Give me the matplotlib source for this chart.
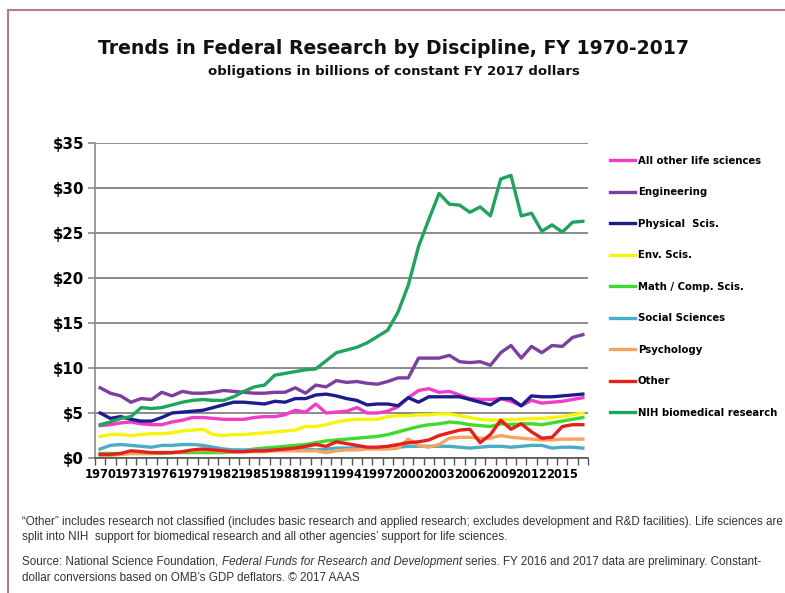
import matplotlib
matplotlib.use("Agg")
import matplotlib.pyplot as plt
from matplotlib.patches import Rectangle
from matplotlib.ticker import FixedLocator, FuncFormatter

# ---------------- data ----------------
years = list(range(1970, 2018))
tick_years = list(range(1970, 2016, 3))

labels = ["All other life sciences", "Engineering", "Physical  Scis.", "Env. Scis.",
          "Math / Comp. Scis.", "Social Sciences", "Psychology", "Other",
          "NIH biomedical research"]

life = [3.6, 3.7, 3.9, 4.0, 3.8, 3.7, 3.7, 4.0, 4.2, 4.5,
        4.5, 4.4, 4.3, 4.3, 4.3, 4.5, 4.6, 4.6, 4.8, 5.3,
        5.1, 6.0, 5.0, 5.1, 5.2, 5.6, 5.0, 5.0, 5.2, 5.7,
        6.7, 7.5, 7.7, 7.3, 7.4, 7.0, 6.6, 6.5, 6.5, 6.6,
        6.3, 5.8, 6.4, 6.1, 6.2, 6.3, 6.5, 6.7]
engineering = [7.8, 7.2, 6.9, 6.2, 6.6, 6.5, 7.3, 6.9, 7.4, 7.2,
               7.2, 7.3, 7.5, 7.4, 7.3, 7.2, 7.2, 7.3, 7.3, 7.8,
               7.2, 8.1, 7.9, 8.6, 8.4, 8.5, 8.3, 8.2, 8.5, 8.9,
               8.9, 11.1, 11.1, 11.1, 11.4, 10.7, 10.6, 10.7, 10.3, 11.7,
               12.5, 11.1, 12.4, 11.7, 12.5, 12.4, 13.4, 13.7]
physical = [5.0, 4.4, 4.6, 4.3, 4.1, 4.1, 4.5, 5.0, 5.1, 5.2,
            5.3, 5.6, 5.9, 6.2, 6.2, 6.1, 6.0, 6.3, 6.2, 6.6,
            6.6, 7.0, 7.1, 6.9, 6.6, 6.4, 5.9, 6.0, 6.0, 5.8,
            6.7, 6.2, 6.8, 6.8, 6.8, 6.8, 6.5, 6.2, 5.9, 6.6,
            6.6, 5.8, 6.9, 6.8, 6.8, 6.9, 7.0, 7.1]
env = [2.4, 2.6, 2.6, 2.5, 2.6, 2.7, 2.7, 2.8, 3.0, 3.1,
       3.2, 2.6, 2.5, 2.6, 2.6, 2.7, 2.8, 2.9, 3.0, 3.1,
       3.5, 3.5, 3.7, 4.0, 4.2, 4.3, 4.3, 4.3, 4.6, 4.7,
       4.7, 4.8, 4.8, 4.9, 4.9, 4.7, 4.5, 4.3, 4.2, 4.2,
       4.3, 4.3, 4.4, 4.4, 4.5, 4.6, 4.8, 5.0]
math_comp = [0.5, 0.5, 0.5, 0.5, 0.5, 0.5, 0.5, 0.6, 0.6, 0.6,
             0.6, 0.6, 0.6, 0.7, 0.8, 1.0, 1.1, 1.2, 1.3, 1.4,
             1.5, 1.7, 1.9, 2.0, 2.1, 2.2, 2.3, 2.4, 2.6, 2.9,
             3.2, 3.5, 3.7, 3.8, 4.0, 3.9, 3.7, 3.6, 3.5, 3.8,
             3.7, 3.8, 3.8, 3.7, 3.9, 4.1, 4.3, 4.5]
social = [1.0, 1.4, 1.5, 1.4, 1.3, 1.2, 1.4, 1.4, 1.5, 1.5,
          1.4, 1.2, 1.0, 0.9, 0.9, 0.9, 0.9, 0.9, 1.0, 1.0,
          1.0, 0.9, 1.0, 1.1, 1.1, 1.1, 1.1, 1.1, 1.2, 1.2,
          1.3, 1.3, 1.3, 1.3, 1.3, 1.2, 1.1, 1.2, 1.3, 1.3,
          1.2, 1.3, 1.4, 1.4, 1.1, 1.2, 1.2, 1.1]
psychology = [0.3, 0.3, 0.4, 0.5, 0.5, 0.5, 0.6, 0.6, 0.7, 0.8,
              0.9, 0.8, 0.7, 0.7, 0.7, 0.7, 0.7, 0.8, 0.8, 0.8,
              0.8, 0.8, 0.6, 0.8, 0.9, 0.9, 1.0, 1.0, 1.0, 1.1,
              2.1, 1.4, 1.2, 1.5, 2.2, 2.3, 2.3, 2.2, 2.2, 2.5,
              2.3, 2.2, 2.1, 2.0, 2.0, 2.1, 2.1, 2.1]
other = [0.4, 0.4, 0.5, 0.8, 0.7, 0.6, 0.6, 0.6, 0.7, 0.9,
         1.0, 0.9, 0.8, 0.7, 0.7, 0.8, 0.8, 0.9, 1.0, 1.1,
         1.3, 1.5, 1.3, 1.8, 1.6, 1.4, 1.2, 1.2, 1.3, 1.5,
         1.7, 1.8, 2.0, 2.5, 2.8, 3.1, 3.2, 1.7, 2.6, 4.2,
         3.2, 3.8, 2.9, 2.2, 2.3, 3.5, 3.7, 3.7]
nih = [3.7, 4.0, 4.4, 4.6, 5.6, 5.5, 5.6, 5.9, 6.2, 6.4,
       6.5, 6.4, 6.4, 6.8, 7.4, 7.9, 8.1, 9.2, 9.4, 9.6,
       9.8, 9.9, 10.8, 11.7, 12.0, 12.3, 12.8, 13.5, 14.2, 16.2,
       19.2, 23.5, 26.5, 29.4, 28.2, 28.1, 27.3, 27.9, 26.9, 31.0,
       31.4, 26.9, 27.2, 25.2, 25.9, 25.1, 26.2, 26.3]

series = [life, engineering, physical, env, math_comp, social, psychology, other, nih]
colors = ["#f03cc8", "#7b3f9e", "#1c1c8e", "#f5f50a", "#3ddc2a",
          "#4bacc6", "#f4a460", "#e3201b", "#1fa35e"]

# ---------------- figure ----------------
W, H = 785, 593
fig = plt.figure(figsize=(W / 100, H / 100), dpi=100)
fig.patch.set_facecolor("white")

def fx(px):
    return px / W

def fy(py):
    return 1 - py / H

# border
fig.patches.append(Rectangle((fx(8), fy(600)), fx(800), fy(10) - fy(600),
                             transform=fig.transFigure, fill=False,
                             edgecolor="#b87b88", linewidth=1.5))

ax = fig.add_axes([fx(95), fy(458), fx(588) - fx(95), fy(143) - fy(458)])
for s, c, lab in zip(series, colors, labels):
    ax.plot(years, s, color=c, linewidth=2.4, label=lab, solid_joinstyle="round")

ax.set_xlim(1969.5, 2017.5)
ax.set_ylim(0, 35)
ax.set_yticks(range(0, 36, 5))
ax.yaxis.set_major_formatter(FuncFormatter(lambda v, p: f"${int(v)}"))
ax.grid(axis="y", color="#8a8a8a", linewidth=1.4)
ax.set_axisbelow(True)
for sp in ["top", "right"]:
    ax.spines[sp].set_visible(False)
ax.spines["left"].set_color("#8a8a8a")
ax.spines["left"].set_linewidth(1.2)
ax.spines["bottom"].set_color("#555555")
ax.spines["bottom"].set_linewidth(1.2)

ax.xaxis.set_major_locator(FixedLocator(tick_years))
ax.xaxis.set_minor_locator(FixedLocator([y - 0.5 for y in years] + [years[-1] + 0.5]))
ax.tick_params(axis="x", which="major", length=0, pad=7)
ax.tick_params(axis="x", which="minor", length=5, width=1, color="#555555", direction="out")
ax.tick_params(axis="y", length=5, width=1.2, color="#8a8a8a", pad=3)
for t in ax.get_xticklabels():
    t.set_fontsize(8.3)
    t.set_fontweight("bold")
    t.set_family("DejaVu Sans")
for t in ax.get_yticklabels():
    t.set_fontsize(10.8)
    t.set_fontweight("bold")
    t.set_family("DejaVu Sans")

# legend
leg = fig.legend(loc="upper left", bbox_to_anchor=(fx(610), fy(156)),
                 frameon=False, borderpad=0, borderaxespad=0,
                 handlelength=2.5, handletextpad=0.25, labelspacing=2.12,
                 prop={"family": "DejaVu Sans", "weight": "bold", "size": 7.3})
for ln in leg.get_lines():
    ln.set_linewidth(2.4)

# titles
fig.canvas.draw()
renderer = fig.canvas.get_renderer()

def fit(txt, target):
    w = txt.get_window_extent(renderer).width
    txt.set_fontsize(txt.get_fontsize() * target / w)

t1 = fig.text(fx(394), fy(48), "Trends in Federal Research by Discipline, FY 1970-2017",
              ha="center", va="center", fontsize=14, fontweight="bold",
              family="DejaVu Sans", color="#111111")
fit(t1, 592)
t2 = fig.text(fx(394), fy(72), "obligations in billions of constant FY 2017 dollars",
              ha="center", va="center", fontsize=10, fontweight="bold",
              family="DejaVu Sans", color="#111111")
fit(t2, 372)

# footnotes
fn_kw = dict(family="Liberation Sans", fontsize=7, color="#333333", va="center", ha="left")
f1 = fig.text(fx(22), fy(522), "\u201cOther\u201d includes research not classified (includes basic research and applied "
              "research; excludes development and R&D facilities). Life sciences are", **fn_kw)
fit(f1, 760)
fsize = f1.get_fontsize()
fn_kw["fontsize"] = fsize
fig.text(fx(22), fy(537), "split into NIH  support for biomedical research and all other agencies\u2019 "
         "support for life sciences.", **fn_kw)

pieces = [("Source: National Science Foundation, ", "normal"),
          ("Federal Funds for Research and Development", "italic"),
          (" series. FY 2016 and 2017 data are preliminary. Constant-", "normal")]
xpos = 22
for txt, style in pieces:
    tt = fig.text(fx(xpos), fy(562), txt, style=style, **fn_kw)
    xpos += tt.get_window_extent(renderer).width
fig.text(fx(22), fy(578), "dollar conversions based on OMB\u2019s GDP deflators. \u00a9 2017 AAAS", **fn_kw)

fig.savefig("out.png", dpi=100, facecolor="white")
